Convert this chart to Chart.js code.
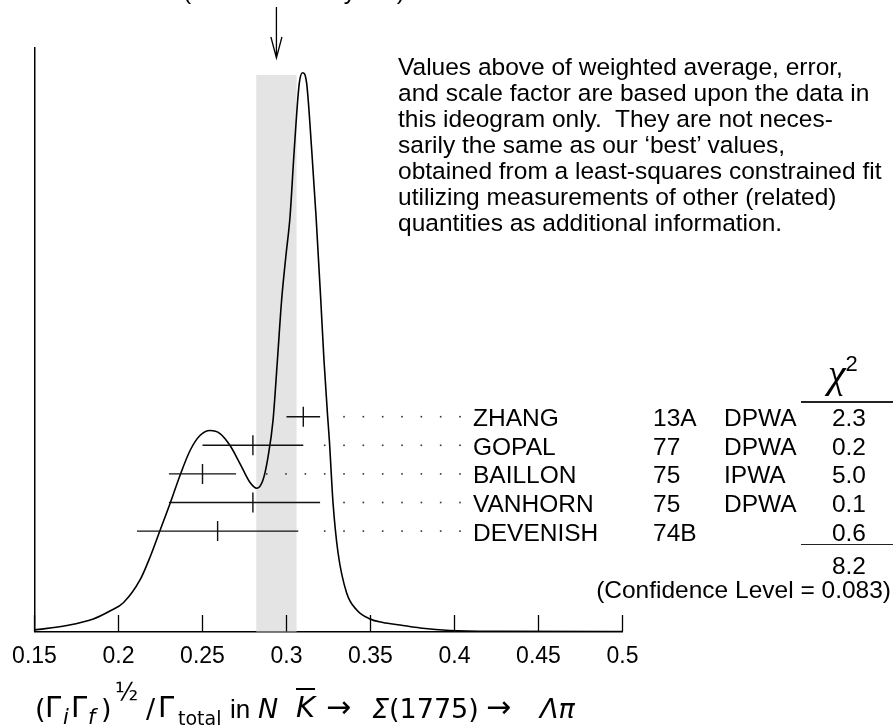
<!DOCTYPE html>
<html>
<head>
<meta charset="utf-8">
<script src="https://cdn.jsdelivr.net/npm/chart.js@4.4.1/dist/chart.umd.min.js"></script>
<style>
    html, body { margin: 0; padding: 0; background: #fff; }
    body { width: 893px; height: 725px; position: relative; overflow: hidden; font-family: 'Liberation Sans', Arial, Helvetica, sans-serif; color: #000; }
    #ideogram { position: absolute; left: 0; top: 0; }
    .txt { position: absolute; font-size: 24.5px; line-height: 26px; white-space: pre; }
    .right { text-align: right; }
    .rule { position: absolute; height: 1.5px; background: #222; }
    #chi-head { position: absolute; left: 828px; top: 352px; font-family: 'Liberation Serif', 'Times New Roman', serif; font-style: italic; font-size: 40px; line-height: 44px; white-space: pre; }
    #chi-head .sq { position: relative; top: -16px; font-size: 22px; font-style: normal; font-family: 'Liberation Sans', Arial, sans-serif; }
    .tk { position: absolute; font-family: 'DejaVu Sans', sans-serif; line-height: 1; white-space: pre; }
    .tk.it { font-style: italic; }
    .tk.lib { font-family: 'Liberation Sans', Arial, sans-serif; }
    .tk.bar { text-decoration: overline; text-decoration-thickness: 1.5px; }
</style>
</head>
<body>
<canvas id="ideogram" width="893" height="725"></canvas>

<div class="txt" style="left:183px; top:-22.5px;">(Error scaled by 1.4)</div>

<div class="txt" style="left:398px; top:53.5px;">Values above of weighted average, error,
and scale factor are based upon the data in
this ideogram only.  They are not neces-
sarily the same as our ‘best’ values,
obtained from a least-squares constrained fit
utilizing measurements of other (related)
quantities as additional information.</div>

<div id="chi-head">χ<span class="sq">2</span></div>
<div class="rule" style="left:801px; top:401px; width:92px;"></div>
<div class="rule" style="left:801px; top:543.5px; width:92px;"></div>

<div id="axis-title"></div>

<script>
// axis
const xTickValues = [0.15, 0.2, 0.25, 0.3, 0.35, 0.4, 0.45, 0.5];
const xTickLabels = ['0.15', '0.2', '0.25', '0.3', '0.35', '0.4', '0.45', '0.5'];

// ideogram curve (peak = 1)
const curveX = [0.150, 0.1692, 0.1850, 0.1949, 0.2029, 0.2128, 0.2188, 0.2247, 0.2307, 0.2366,
                0.2426, 0.2485, 0.2545, 0.2604, 0.2664, 0.2723, 0.2783, 0.2823, 0.2860, 0.2890,
                0.2920, 0.2946, 0.2971, 0.2997, 0.3021, 0.3046, 0.3076, 0.3096, 0.3120, 0.3150,
                0.3176, 0.3204, 0.3223, 0.3245, 0.3255, 0.3277, 0.3307, 0.3358, 0.3418, 0.3497,
                0.3574, 0.3676, 0.3795, 0.3973, 0.4271, 0.500];
const curveY = [0.0027, 0.0107, 0.0224, 0.0367, 0.0515, 0.0922, 0.1333, 0.1808, 0.2291, 0.2792,
                0.3239, 0.3507, 0.3596, 0.3543, 0.3328, 0.3006, 0.2666, 0.2563, 0.2711, 0.3122,
                0.3784, 0.4859, 0.5932, 0.6738, 0.7423, 0.8617, 0.9810, 1.0000, 0.9810, 0.8617,
                0.7423, 0.5932, 0.4859, 0.3844, 0.3427, 0.2300, 0.1405, 0.0689, 0.0385, 0.0224,
                0.0161, 0.0116, 0.0063, 0.0018, 0.0004, 0.0];

// measurements
const names = ['ZHANG', 'GOPAL', 'BAILLON', 'VANHORN', 'DEVENISH'];
const years = ['13A', '77', '75', '75', '74B'];
const techniques = ['DPWA', 'DPWA', 'IPWA', 'DPWA', ''];
const values = [0.31, 0.28, 0.25, 0.28, 0.259];
const errLow = [0.01, 0.03, 0.02, 0.05, 0.048];
const errHigh = [0.01, 0.03, 0.02, 0.04, 0.048];
const chi2 = ['2.3', '0.2', '5.0', '0.1', '0.6'];
const chi2Total = '8.2';
const confidenceLevel = '0.083';

// weighted average
const weightedAverage = 0.294;
const weightedError = 0.012;

// layout (pixels)
const plotTop = 48, plotBottom = 631.5;
const firstRowPx = 416.7, rowStepPx = 28.6;
const rowMin = -(firstRowPx - plotTop) / rowStepPx;
const rowMax = rowMin + (plotBottom - plotTop) / rowStepPx;
const nameLeft = 473, yearLeft = 653, techLeft = 724, chiRight = 866;
const FONT = "'Liberation Sans', Arial, Helvetica, sans-serif";

const ideogramPlugin = {
    id: 'ideogram',
    beforeDatasetsDraw(chart) {
        const { ctx, chartArea, scales: { x } } = chart;
        // shaded band = weighted average +- error
        const x1 = x.getPixelForValue(weightedAverage - weightedError);
        const x2 = x.getPixelForValue(weightedAverage + weightedError);
        ctx.save();
        ctx.fillStyle = '#e4e4e4';
        ctx.fillRect(x1, chartArea.top + 27, x2 - x1, chartArea.bottom - chartArea.top - 27);
        ctx.restore();
    },
    afterDatasetsDraw(chart) {
        const { ctx, chartArea, scales: { x, row } } = chart;
        ctx.save();

        // short ticks pointing up from the axis
        ctx.strokeStyle = '#000';
        ctx.lineWidth = 1.3;
        xTickValues.forEach(v => {
            const px = x.getPixelForValue(v);
            ctx.beginPath();
            ctx.moveTo(px, chartArea.bottom);
            ctx.lineTo(px, chartArea.bottom - 16.5);
            ctx.stroke();
        });

        // error bars + dotted leaders
        values.forEach((v, i) => {
            const py = row.getPixelForValue(i);
            const lo = x.getPixelForValue(v - errLow[i]);
            const hi = x.getPixelForValue(v + errHigh[i]);
            const c = x.getPixelForValue(v);
            ctx.strokeStyle = '#111';
            ctx.lineWidth = 1.4;
            ctx.beginPath();
            ctx.moveTo(lo, py);
            ctx.lineTo(hi, py);
            ctx.moveTo(c, py - 10);
            ctx.lineTo(c, py + 10);
            ctx.stroke();

            ctx.fillStyle = '#333';
            for (let dx = nameLeft - 13; dx >= hi + 18; dx -= 19.33) {
                ctx.fillRect(dx - 0.8, py - 0.8, 1.6, 1.6);
            }
        });

        // arrow marking the weighted average
        const ax = x.getPixelForValue(weightedAverage);
        ctx.strokeStyle = '#000';
        ctx.lineWidth = 1.3;
        ctx.beginPath();
        ctx.moveTo(ax, 7);
        ctx.lineTo(ax, 58);
        ctx.moveTo(ax - 5.5, 37);
        ctx.lineTo(ax, 58);
        ctx.lineTo(ax + 5.5, 37);
        ctx.stroke();

        ctx.restore();
    }
};

const ctx = document.getElementById('ideogram').getContext('2d');
const chart = new Chart(ctx, {
    type: 'line',
    data: {
        datasets: [{
            data: curveX.map((v, i) => ({ x: v, y: curveY[i] })),
            borderColor: '#000',
            borderWidth: 1.6,
            pointRadius: 0,
            fill: false,
            cubicInterpolationMode: 'monotone'
        }]
    },
    options: {
        responsive: false,
        animation: false,
        devicePixelRatio: 1,
        layout: { padding: { left: 34.5, right: 270.5, top: plotTop, bottom: 725 - plotBottom - 40 } },
        plugins: { legend: { display: false }, tooltip: { enabled: false } },
        scales: {
            x: {
                type: 'linear',
                min: 0.15,
                max: 0.5,
                afterBuildTicks: scale => { scale.ticks = xTickValues.map(v => ({ value: v })); },
                afterFit: scale => { scale.height = 40; },
                ticks: {
                    callback: (value, index) => xTickLabels[index],
                    color: '#000',
                    font: { family: FONT, size: 23 },
                    padding: 11,
                    maxRotation: 0,
                    autoSkip: false
                },
                grid: { display: false, drawTicks: false },
                border: { display: true, color: '#000', width: 1.5 }
            },
            y: {
                type: 'linear',
                min: 0,
                max: (plotBottom - plotTop) / 558.8,
                afterFit: scale => { scale.width = 0; },
                ticks: { display: false },
                grid: { display: false, drawTicks: false },
                border: { display: true, color: '#000', width: 1.5 }
            },
            row: {
                type: 'linear',
                axis: 'y',
                position: 'left',
                display: false,
                reverse: true,
                min: rowMin,
                max: rowMax
            }
        }
    },
    plugins: [ideogramPlugin]
});

// table text on the right, aligned to the rows of the chart
function addText(text, left, baseline, cls) {
    const el = document.createElement('div');
    el.className = 'txt' + (cls ? ' ' + cls : '');
    el.textContent = text;
    el.style.top = (baseline - 21.5) + 'px';
    if (cls === 'right') {
        el.style.right = (893 - left) + 'px';
    } else {
        el.style.left = left + 'px';
    }
    document.body.appendChild(el);
}

names.forEach((name, i) => {
    const base = chart.scales.row.getPixelForValue(i) + 10;
    addText(name, nameLeft, base);
    addText(years[i], yearLeft, base);
    if (techniques[i]) addText(techniques[i], techLeft, base);
    addText(chi2[i], chiRight, base, 'right');
});
addText(chi2Total, chiRight, 574.5, 'right');
addText('(Confidence Level = ' + confidenceLevel + ')', 891, 598.5, 'right');

// x-axis title, placed piece by piece on a common baseline
const titleBase = 718;
const titlePieces = [
    ['(', 35, 27, 0, ''], ['Γ', 45, 29, 0, ''], ['i', 63, 21, 7, 'it'], ['Γ', 71, 29, 0, ''],
    ['f', 88, 21, 7, 'it'], [')', 101, 27, 0, ''], ['½', 115, 24, -18, ''], ['/', 146, 27, 0, ''],
    ['Γ', 158, 29, 0, ''], ['total', 178, 19, 7, ''], ['in', 230, 26, 0, 'lib'], ['N', 258, 27, 0, 'it'],
    ['K', 296, 29, 0, 'it bar'], ['→', 326, 30, -1, ''], ['Σ', 372, 27, 0, 'it'], ['(1775)', 389, 27, 0, ''],
    ['→', 486, 30, -1, ''], ['Λπ', 540, 27, 0, 'it']
];
const titleBox = document.getElementById('axis-title');
titlePieces.forEach(([text, left, size, shift, cls]) => {
    const el = document.createElement('div');
    el.className = 'tk' + (cls ? ' ' + cls : '');
    el.textContent = text;
    el.style.left = left + 'px';
    el.style.fontSize = size + 'px';
    el.style.top = (titleBase + shift - 0.846 * size) + 'px';
    titleBox.appendChild(el);
});
</script>
</body>
</html>
